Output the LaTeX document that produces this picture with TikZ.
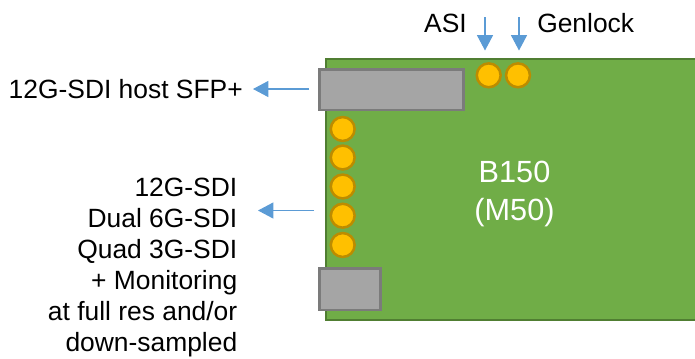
\documentclass[tikz,border=0pt]{standalone}
\usepackage{fontspec}
\setmainfont{Liberation Sans}
\usetikzlibrary{arrows.meta}
\definecolor{boardfill}{HTML}{70AD47}
\definecolor{boardedge}{HTML}{507E32}
\definecolor{connfill}{HTML}{A5A5A5}
\definecolor{connedge}{HTML}{7B7B7B}
\definecolor{ledfill}{HTML}{FFC000}
\definecolor{ledge}{HTML}{BC8C00}
\definecolor{arrowblue}{HTML}{5B9BD5}
\tikzset{
 px/.style={x=0.75pt,y=-0.75pt},
 board/.style={draw=boardedge,fill=boardfill,line width=1.5pt},
 conn/.style={draw=connedge,fill=connfill,line width=1.9pt},
 led/.style={circle,draw=ledge,fill=ledfill,line width=1.9pt,minimum size=17.9pt,inner sep=0pt},
 lbl/.style={font=\fontsize{19.8pt}{23.2pt}\selectfont,text=black,inner sep=0pt},
 arr/.style={draw=arrowblue,line width=0.8pt,-{Triangle[length=11.5pt,width=12pt]}}
}
\begin{document}
\begin{tikzpicture}[px]
\useasboundingbox (0,0) rectangle (695,358);
\path[board] (325.5,58.5) rectangle (696,320);
\path[conn] (319.5,69.5) rectangle (463.5,110);
\path[conn] (319.5,268.5) rectangle (380.5,310);
\foreach \n/\x/\y in {a/488.7/75.3,b/518/75.3,c/342.7/129,d/342.7/157.5,e/342.7/186.5,f/342.7/215.7,g/342.7/245}
  \node[led] (\n) at (\x,\y) {};
\node[font=\fontsize{23pt}{28.5pt}\selectfont,text=white,align=center,inner sep=0pt] (title) at (514.5,193.5) {B150\\(M50)};
\node[lbl,anchor=base east] (asi) at (467,32) {ASI};
\node[lbl,anchor=base west] (gen) at (537,32) {Genlock};
\node[lbl,anchor=base east] (host) at (243,98) {12G-SDI host SFP+};
\node[lbl,align=right,anchor=north east] (sdi) at (237.5,178) {12G-SDI\\Dual 6G-SDI\\Quad 3G-SDI\\+ Monitoring\\at full res and/or\\down-sampled};
\coordinate (a1) at (485,17); \coordinate (a2) at (485,50.5);
\coordinate (b1) at (519,17); \coordinate (b2) at (519,50.5);
\coordinate (c1) at (309,89); \coordinate (c2) at (253,89);
\coordinate (d1) at (314,210.5); \coordinate (d2) at (258,210.5);
\draw[arr] (a1) -- (a2);
\draw[arr] (b1) -- (b2);
\draw[arr] (c1) -- (c2);
\draw[arr] (d1) -- (d2);
\end{tikzpicture}
\end{document}
